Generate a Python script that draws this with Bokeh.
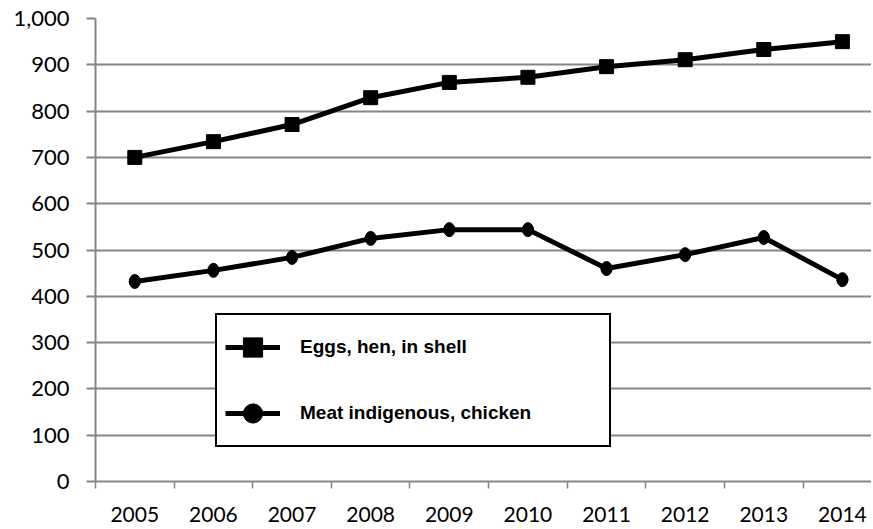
from bokeh.plotting import figure
from bokeh.models import (Range1d, FixedTicker, NumeralTickFormatter, Legend, LegendItem,
                          ColumnDataSource)
from bokeh.embed import file_html
from bokeh.resources import INLINE

years = ["2005", "2006", "2007", "2008", "2009", "2010", "2011", "2012", "2013", "2014"]
eggs = [700, 734, 771, 829, 862, 873, 896, 911, 933, 950]
chicken = [432, 456, 484, 525, 544, 544, 460, 490, 527, 436]
series_names = ["Eggs, hen, in shell", "Meat indigenous, chicken"]
y_ticks = [0, 100, 200, 300, 400, 500, 600, 700, 800, 900, 1000]

xs = list(range(len(years)))
src = ColumnDataSource(dict(x=xs, eggs=eggs, chicken=chicken))

p = figure(width=871, height=524, output_backend="svg", toolbar_location=None,
           x_range=Range1d(-0.5, 9.37), y_range=Range1d(0, 1000),
           min_border_left=95, min_border_top=18, min_border_bottom=30, min_border_right=0)
p.outline_line_color = None
p.background_fill_color = "white"

grid_col = "#868686"
tick_font = "Lato"

# x axis
p.xaxis.ticker = FixedTicker(ticks=xs, minor_ticks=[i - 0.5 for i in range(len(years) + 1)])
p.xaxis.major_label_overrides = {i: y for i, y in enumerate(years)}
p.xaxis.major_tick_out = 0
p.xaxis.major_tick_in = 0
p.xaxis.minor_tick_out = 7
p.xaxis.minor_tick_in = 0
p.xaxis.minor_tick_line_color = grid_col
p.xaxis.minor_tick_line_width = 1.5
p.xaxis.axis_line_color = grid_col
p.xaxis.axis_line_width = 2
p.xaxis.major_label_text_font = tick_font
p.xaxis.major_label_text_font_size = "21px"
p.xaxis.major_label_text_color = "black"
p.xaxis.major_label_standoff = 18
p.xgrid.visible = False

# y axis
p.yaxis.ticker = FixedTicker(ticks=y_ticks)
p.yaxis.formatter = NumeralTickFormatter(format="0,0")
p.yaxis.major_tick_out = 9
p.yaxis.major_tick_in = 0
p.yaxis.minor_tick_line_color = None
p.yaxis.major_tick_line_color = grid_col
p.yaxis.major_tick_line_width = 2
p.yaxis.axis_line_color = grid_col
p.yaxis.axis_line_width = 2
p.yaxis.major_label_text_font = tick_font
p.yaxis.major_label_text_font_size = "22px"
p.yaxis.major_label_text_color = "black"
p.yaxis.major_label_standoff = 17
p.ygrid.grid_line_color = grid_col
p.ygrid.grid_line_width = 2

# series
l1 = p.line("x", "eggs", source=src, line_color="black", line_width=5)
m1 = p.scatter("x", "eggs", source=src, marker="square", size=14, fill_color="black", line_color="black")
l2 = p.line("x", "chicken", source=src, line_color="black", line_width=5)
m2 = p.scatter("x", "chicken", source=src, marker="circle", size=11, fill_color="black", line_color="black")
p.ellipse("x", "chicken", source=src, width=11, height=14, width_units="screen", height_units="screen",
          fill_color="black", line_color="black")

legend = Legend(items=[LegendItem(label=series_names[0], renderers=[l1, m1]),
                       LegendItem(label=series_names[1], renderers=[l2, m2])],
                location=(120, 34))
legend.border_line_color = "black"
legend.border_line_alpha = 1
legend.border_line_width = 2
legend.background_fill_color = "white"
legend.background_fill_alpha = 1
legend.padding = 8
legend.margin = 0
legend.glyph_width = 55
legend.glyph_height = 48
legend.label_height = 48
legend.label_width = 301
legend.label_standoff = 20
legend.spacing = 18
legend.label_text_font = "Liberation Sans"
legend.label_text_font_style = "bold"
legend.label_text_font_size = "19px"
legend.label_text_color = "black"
p.add_layout(legend, "center")

open("out.html", "w").write(file_html(p, INLINE))
